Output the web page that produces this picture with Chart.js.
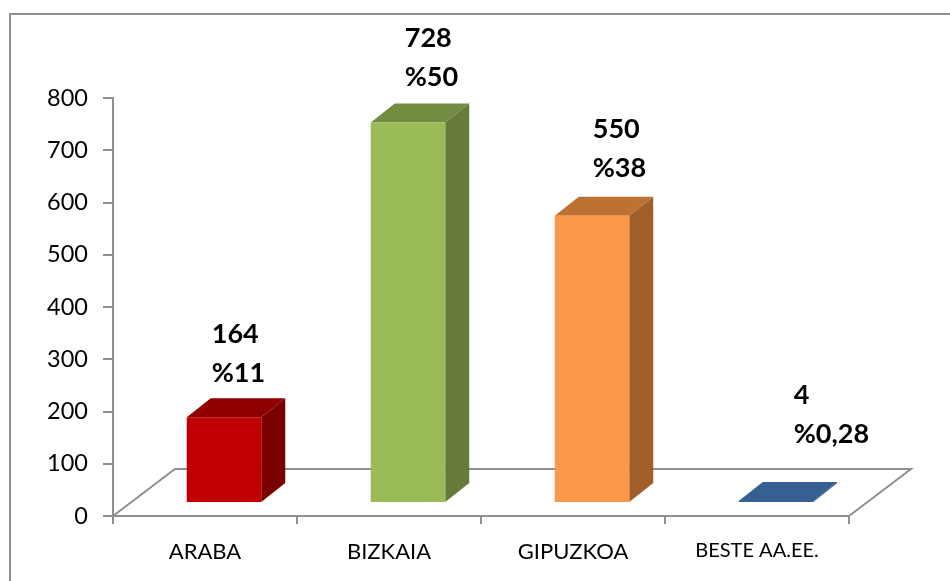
<!DOCTYPE html>
<html>
<head>
<meta charset="utf-8">
<style>
  html, body { margin: 0; padding: 0; background: #fff; overflow: hidden; }
  #wrap { position: absolute; left: 0; top: 0; width: 950px; height: 581px; }
</style>
<script src="https://cdn.jsdelivr.net/npm/chart.js@4"></script>
</head>
<body>
<div id="wrap"><canvas id="myChart" width="950" height="581"></canvas></div>
<script>
const categories = ['ARABA', 'BIZKAIA', 'GIPUZKOA', 'BESTE AA.EE.'];
const values = [164, 728, 550, 4];
const percents = ['%11', '%50', '%38', '%0,28'];
const yTicks = [0, 100, 200, 300, 400, 500, 600, 700, 800];

const frontColors = ['#c00000', '#9bbb59', '#fb984a', '#376092'];
const topColors = ['#8f0000', '#748c42', '#bd7133', '#376092'];
const sideColors = ['#7a0000', '#667a3a', '#a05f2a', '#2c4d75'];
// hand placed in the original, offset from the front top-left corner of each bar
const labelDx = [25, 34, 38, 55];
const labelDy = [-83, -84, -86, -106];

const depthX = 24, depthY = 19;   // bar depth
const shiftX = 19, shiftY = 13;   // bars stand in the middle of the floor
const floorX = 62, floorY = 47;   // floor depth

const axisGray = '#8f8f8f';

// frame round the chart and the 3D floor behind the bars
const floorPlugin = {
    id: 'floor',
    beforeDraw(chart) {
        const c = chart.ctx, a = chart.chartArea;
        c.save();
        c.strokeStyle = axisGray;
        c.lineWidth = 2;
        c.beginPath();
        c.moveTo(10, 581);
        c.lineTo(10, 14);
        c.lineTo(950, 14);
        c.stroke();
        c.beginPath();
        c.moveTo(a.left, a.bottom);
        c.lineTo(a.left + floorX, a.bottom - floorY);
        c.lineTo(a.right + floorX, a.bottom - floorY);
        c.lineTo(a.right, a.bottom);
        c.stroke();
        c.restore();
    }
};

// top and side faces from the bar elements; the library then draws the front shifted
const box3dPlugin = {
    id: 'box3d',
    beforeDatasetDraw(chart) {
        const c = chart.ctx;
        c.save();
        c.translate(shiftX, -shiftY);
        chart.getDatasetMeta(0).data.forEach((bar, i) => {
            const p = bar.getProps(['x', 'y', 'base', 'width'], true);
            const l = p.x - p.width / 2, r = p.x + p.width / 2;
            c.fillStyle = topColors[i];
            c.beginPath();
            c.moveTo(l, p.y);
            c.lineTo(l + depthX, p.y - depthY);
            c.lineTo(r + depthX, p.y - depthY);
            c.lineTo(r, p.y);
            c.closePath();
            c.fill();
            c.fillStyle = sideColors[i];
            c.beginPath();
            c.moveTo(r, p.y);
            c.lineTo(r + depthX, p.y - depthY);
            c.lineTo(r + depthX, p.base - depthY);
            c.lineTo(r, p.base);
            c.closePath();
            c.fill();
        });
    },
    afterDatasetDraw(chart) {
        chart.ctx.restore();
    },
    afterDraw(chart) {
        const c = chart.ctx;
        c.save();
        c.fillStyle = '#000';
        c.font = 'bold 27px Lato';
        c.textAlign = 'left';
        c.textBaseline = 'middle';
        chart.getDatasetMeta(0).data.forEach((bar, i) => {
            const x = bar.x - bar.width / 2 + shiftX + labelDx[i];
            const y = bar.y - shiftY + labelDy[i];
            c.fillText(String(values[i]), x, y);
            c.fillText(percents[i], x, y + 39);
        });
        c.restore();
    }
};

new Chart(document.getElementById('myChart'), {
    type: 'bar',
    data: {
        labels: categories,
        datasets: [{
            data: values,
            backgroundColor: frontColors,
            barPercentage: 1,
            categoryPercentage: 0.405
        }]
    },
    options: {
        responsive: false,
        animation: false,
        layout: { padding: { left: 47, top: 98, right: 101, bottom: 0 } },
        plugins: { legend: { display: false }, tooltip: { enabled: false } },
        scales: {
            x: {
                afterFit: axis => { axis.height = 65; },
                grid: { drawOnChartArea: false, color: axisGray, lineWidth: 2, tickLength: 8 },
                border: { color: axisGray, width: 2 },
                ticks: {
                    color: '#000',
                    maxRotation: 0,
                    autoSkip: false,
                    padding: 15,
                    font: ctx => ({ family: 'Lato', size: ctx.index === 3 ? 20 : 22 })
                }
            },
            y: {
                min: 0,
                max: 800,
                afterFit: axis => { axis.width = 66; },
                afterBuildTicks: axis => { axis.ticks = yTicks.map(v => ({ value: v })); },
                grid: { drawOnChartArea: false, color: axisGray, lineWidth: 2, tickLength: 10 },
                border: { color: axisGray, width: 2 },
                ticks: { color: '#000', padding: 15, font: { family: 'Lato', size: 23.5 } }
            }
        }
    },
    plugins: [floorPlugin, box3dPlugin]
});
</script>
</body>
</html>
